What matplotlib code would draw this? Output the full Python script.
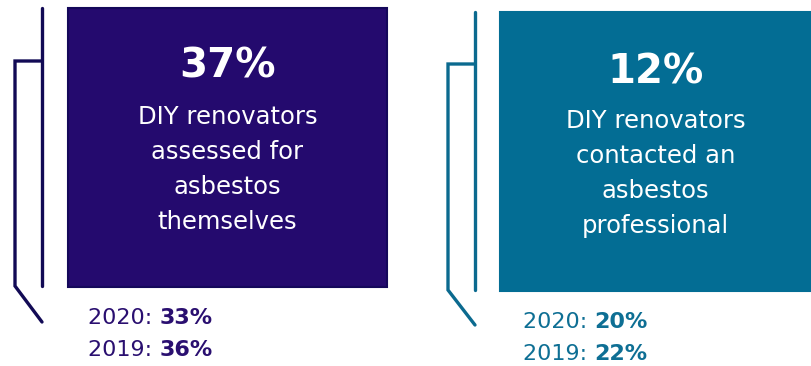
import matplotlib
matplotlib.use("Agg")
import matplotlib.pyplot as plt
from matplotlib.patches import Rectangle

# Data
headline_values = ["37%", "12%"]
descriptions = [
    ["DIY renovators", "assessed for", "asbestos", "themselves"],
    ["DIY renovators", "contacted an", "asbestos", "professional"],
]
years = ["2020", "2019"]
prior_values = [["33%", "36%"], ["20%", "22%"]]

# Styles
box_colors = ["#240a6e", "#036d94"]
edge_colors = ["#14085a", "#036d94"]
line_colors = ["#120a55", "#0b6a8f"]
text_colors = ["#2a0f70", "#0e6f94"]

# Layout (pixel coordinates)
boxes = [(68, 8, 387, 287), (500, 12, 811, 291)]
brackets = [(42, 15, 8, 61, 286, 322), (475, 448, 12, 64, 290, 325)]
head_y = [67, 72]
line_y0 = [117, 121]
line_dy = 35
year_x = [88, 523]
year_y = [[318, 350], [322, 354]]

FONT = "DejaVu Sans"

fig = plt.figure(figsize=(8.11, 3.66), dpi=100)
ax = fig.add_axes([0, 0, 1, 1])
ax.set_xlim(0, 811)
ax.set_ylim(366, 0)
ax.axis("off")

for i in range(2):
    x0, y0, x1, y1 = boxes[i]
    ax.add_patch(Rectangle((x0, y0), x1 - x0, y1 - y0, facecolor=box_colors[i],
                           edgecolor=edge_colors[i], linewidth=1.5, zorder=2))
    xv, xb, yt, yh, yb, yd = brackets[i]
    ax.plot([xv, xv], [yt, yb], color=line_colors[i], lw=2.4, solid_capstyle="round")
    ax.plot([xv, xb, xb, xv], [yh, yh, yb, yd], color=line_colors[i], lw=2.4,
            solid_capstyle="round", solid_joinstyle="miter")
    cx = (x0 + x1) / 2
    ax.text(cx, head_y[i], headline_values[i], color="white", fontsize=29,
            fontweight="bold", ha="center", va="center", family=FONT, zorder=3)
    for j, line in enumerate(descriptions[i]):
        ax.text(cx, line_y0[i] + j * line_dy, line, color="white", fontsize=17.5,
                ha="center", va="center", family=FONT, zorder=3)
    for j in range(2):
        t = ax.text(year_x[i], year_y[i][j], years[j] + ": ", color=text_colors[i],
                    fontsize=16, ha="left", va="center", family=FONT)
        ax.annotate(prior_values[i][j], xy=(1, 0.5), xycoords=t, color=text_colors[i],
                    fontsize=16, fontweight="bold", ha="left", va="center", family=FONT)

fig.savefig("out.png", dpi=100, facecolor="white")
